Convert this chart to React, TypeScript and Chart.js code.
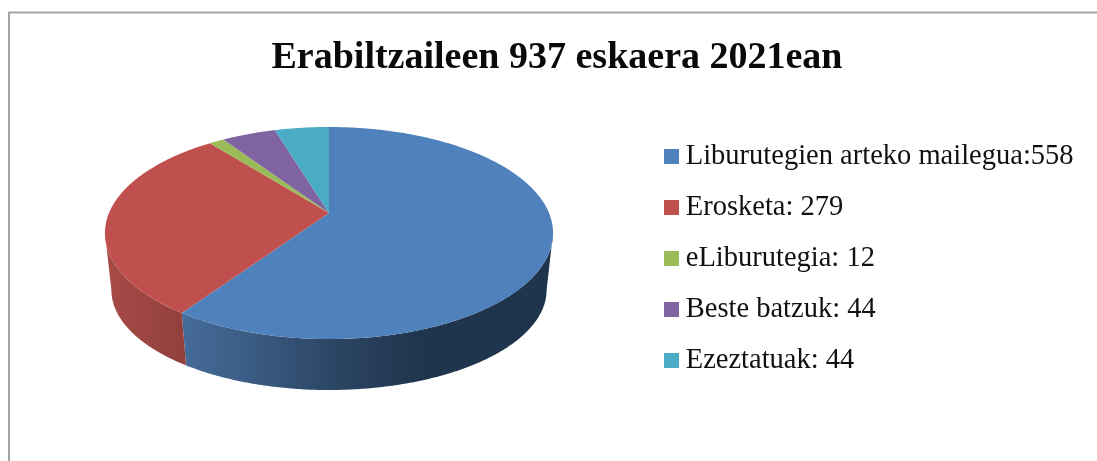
import React, { useEffect, useRef } from "react";
import { Chart, registerables } from "chart.js";

Chart.register(...registerables);

const titleText = "Erabiltzaileen 937 eskaera 2021ean";
const categories = [
  "Liburutegien arteko mailegua:558",
  "Erosketa: 279",
  "eLiburutegia: 12",
  "Beste batzuk: 44",
  "Ezeztatuak: 44",
];
const values = [558, 279, 12, 44, 44];
const colors = ["#4f81bd", "#c0504d", "#9bbb59", "#8064a2", "#4bacc6"];

// Projection of the unit disc (top face and wall bottom rim)
const CX = 329;
const TILT = -0.189;
const FRONT_START = Math.asin(-TILT);
const FRONT_END = Math.PI - FRONT_START;
const topRim = { A: 220, a: 62, b: 213 };
const lowRim = { A: 213.7, a: 45.3, b: 271 };

function project(rim: { A: number; a: number; b: number }, u: number, v: number) {
  const w = 1 + TILT * v;
  return [CX + (rim.A * u) / w, (rim.a * v + rim.b) / w];
}

function rimPoints(rim: any, s: number, e: number) {
  const n = Math.max(2, Math.ceil((e - s) / 0.01));
  const pts: number[][] = [];
  for (let i = 0; i <= n; i++) {
    const t = s + ((e - s) * i) / n;
    pts.push(project(rim, Math.cos(t), Math.sin(t)));
  }
  return pts;
}

function wallFill(ctx: CanvasRenderingContext2D, index: number) {
  if (index === 0) {
    const g = ctx.createLinearGradient(186, 0, 430, 0);
    g.addColorStop(0, "#456b9a");
    g.addColorStop(0.67, "#29425f");
    g.addColorStop(1, "#1f344d");
    return g;
  }
  if (index === 1) {
    const g = ctx.createLinearGradient(106, 0, 186, 0);
    g.addColorStop(0, "#a84b47");
    g.addColorStop(1, "#913f3b");
    return g;
  }
  return colors[index];
}

const piePlugin = {
  id: "pie3d",
  beforeDraw(chart: any) {
    const ctx = chart.ctx;
    ctx.save();
    ctx.strokeStyle = "#a3a3a3";
    ctx.lineWidth = 2;
    ctx.beginPath();
    ctx.moveTo(9, 461);
    ctx.lineTo(9, 12.5);
    ctx.lineTo(1097, 12.5);
    ctx.stroke();
    ctx.restore();
    chart.legend.left = 649;
    chart.legend.top = 119.75;
  },
  beforeDatasetsDraw(chart: any) {
    const ctx = chart.ctx;
    const arcs = chart.getDatasetMeta(0).data;
    ctx.save();
    arcs.forEach((arc: any, i: number) => {
      const p = arc.getProps(["startAngle", "endAngle"], true);
      const s = Math.max(p.startAngle, FRONT_START);
      const e = Math.min(p.endAngle, FRONT_END);
      if (e <= s) return;
      const up = rimPoints(topRim, s, e);
      const low = rimPoints(lowRim, s, e).reverse();
      ctx.beginPath();
      [...up, ...low].forEach((q, k) => (k ? ctx.lineTo(q[0], q[1]) : ctx.moveTo(q[0], q[1])));
      ctx.closePath();
      ctx.fillStyle = wallFill(ctx, i);
      ctx.fill();
    });
    arcs.forEach((arc: any, i: number) => {
      const p = arc.getProps(["startAngle", "endAngle"], true);
      const up = rimPoints(topRim, p.startAngle, p.endAngle);
      ctx.beginPath();
      ctx.moveTo(CX, topRim.b);
      up.forEach((q) => ctx.lineTo(q[0], q[1]));
      ctx.closePath();
      ctx.fillStyle = colors[i];
      ctx.fill();
    });
    ctx.restore();
    return false;
  },
};

export default function App() {
  const ref = useRef<HTMLCanvasElement>(null);
  useEffect(() => {
    const chart = new Chart(ref.current as HTMLCanvasElement, {
      type: "pie",
      data: {
        labels: categories,
        datasets: [{ data: values, backgroundColor: colors, borderWidth: 0 }],
      },
      options: {
        animation: false,
        responsive: false,
        layout: { padding: { left: 17 } },
        plugins: {
          tooltip: { enabled: false },
          title: {
            display: true,
            text: titleText,
            color: "#0a0a0a",
            font: { family: "'Liberation Serif'", size: 38, weight: "bold" },
            padding: { top: 35, bottom: 10 },
          },
          legend: {
            display: true,
            position: "right",
            align: "start",
            labels: {
              color: "#111111",
              font: { family: "'Liberation Serif'", size: 28.5 },
              usePointStyle: true,
              pointStyle: "rect",
              boxWidth: 0.01,
              boxHeight: 15,
              padding: 22.5,
            },
          },
        },
      },
      plugins: [piePlugin],
    } as any);
    return () => chart.destroy();
  }, []);
  return (
    <div style={{ position: "absolute", left: 0, top: 0, width: 1097, height: 461, background: "#fff" }}>
      <canvas ref={ref} width={1097} height={461} style={{ display: "block" }} />
    </div>
  );
}
